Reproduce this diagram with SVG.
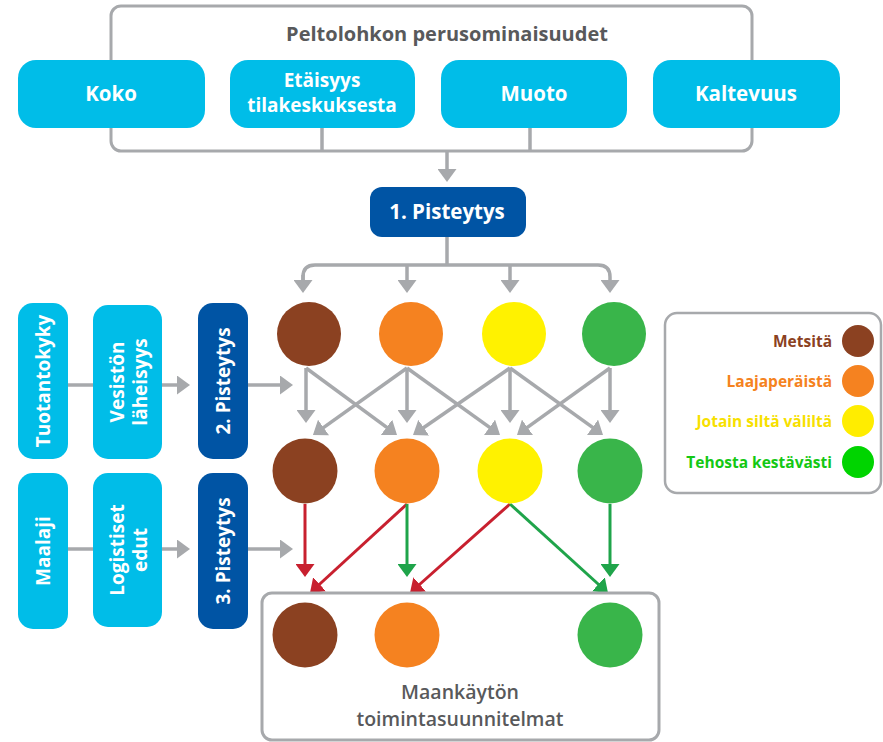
<svg xmlns="http://www.w3.org/2000/svg" width="883" height="742" viewBox="0 0 883 742">
<style>
  .frame{fill:none;stroke:#A7A9AC;stroke-width:3}
  .lb{fill:#00BDE8}
  .db{fill:#0054A4}
  .wt{fill:#fff;font-family:"Open Sans","Liberation Sans",sans-serif;font-weight:700;font-size:19px;text-anchor:middle;dominant-baseline:central}
  .big{font-size:20.5px}
  .gl{fill:none;stroke:#A7A9AC;stroke-width:3.5}
  .rl{fill:none;stroke:#C8202F;stroke-width:3}
  .gn{fill:none;stroke:#1FA44A;stroke-width:3}
  .lg{font-family:"Open Sans","Liberation Sans",sans-serif;font-weight:700;font-size:15.5px;text-anchor:end;dominant-baseline:central}
  .dk{fill:#58595B;font-family:"Open Sans","Liberation Sans",sans-serif;font-weight:700;font-size:20px;text-anchor:middle;dominant-baseline:central}
  .dm{fill:#58595B;font-family:"Open Sans","Liberation Sans",sans-serif;font-weight:600;font-size:19.5px;text-anchor:middle;dominant-baseline:central}
</style>
<defs>
  <marker id="ag" markerUnits="userSpaceOnUse" markerWidth="13" markerHeight="19" viewBox="0 0 13 19" refX="10" refY="9.5" orient="auto"><path d="M0,0 L13,9.5 L0,19 z" fill="#A7A9AC"/></marker>
  <marker id="ar" markerUnits="userSpaceOnUse" markerWidth="13" markerHeight="19" viewBox="0 0 13 19" refX="10" refY="9.5" orient="auto"><path d="M0,0 L13,9.5 L0,19 z" fill="#C8202F"/></marker>
  <marker id="an" markerUnits="userSpaceOnUse" markerWidth="13" markerHeight="19" viewBox="0 0 13 19" refX="10" refY="9.5" orient="auto"><path d="M0,0 L13,9.5 L0,19 z" fill="#1FA44A"/></marker>
</defs>

<g id="perusominaisuudet">
  <rect class="frame" x="111" y="6" width="641" height="145" rx="10"/>
  <text class="dk" x="447" y="33">Peltolohkon perusominaisuudet</text>
</g>

<g id="connectors">
  <line class="gl" x1="322" y1="128" x2="322" y2="151"/>
  <line class="gl" x1="530" y1="128" x2="530" y2="151"/>
  <line class="gl" x1="447" y1="151" x2="447" y2="179" marker-end="url(#ag)"/>
  <line class="gl" x1="447" y1="237" x2="447" y2="265"/>
  <path class="gl" d="M303,290 V277 Q303,265 315,265 H598 Q610,265 610,277 V290" marker-end="url(#ag)"/>
  <line class="gl" x1="303" y1="275" x2="303" y2="290" marker-end="url(#ag)"/>
  <line class="gl" x1="407" y1="265" x2="407" y2="290" marker-end="url(#ag)"/>
  <line class="gl" x1="510" y1="265" x2="510" y2="290" marker-end="url(#ag)"/>

  <line class="gl" x1="68" y1="385" x2="93" y2="385"/>
  <line class="gl" x1="162" y1="385" x2="187" y2="385" marker-end="url(#ag)"/>
  <line class="gl" x1="248" y1="385" x2="290" y2="385" marker-end="url(#ag)"/>
  <line class="gl" x1="68" y1="549" x2="93" y2="549"/>
  <line class="gl" x1="162" y1="549" x2="187" y2="549" marker-end="url(#ag)"/>
  <line class="gl" x1="248" y1="549" x2="290" y2="549" marker-end="url(#ag)"/>

  <line class="gl" x1="306" y1="368" x2="306" y2="420" marker-end="url(#ag)"/>
  <line class="gl" x1="407" y1="368" x2="407" y2="420" marker-end="url(#ag)"/>
  <line class="gl" x1="510" y1="368" x2="510" y2="420" marker-end="url(#ag)"/>
  <line class="gl" x1="610" y1="368" x2="610" y2="420" marker-end="url(#ag)"/>
  <line class="gl" x1="306" y1="368" x2="394.6" y2="433.2" marker-end="url(#ag)"/>
  <line class="gl" x1="407" y1="368" x2="315.4" y2="433.3" marker-end="url(#ag)"/>
  <line class="gl" x1="407" y1="368" x2="497.6" y2="433.2" marker-end="url(#ag)"/>
  <line class="gl" x1="510" y1="368" x2="415.5" y2="433.3" marker-end="url(#ag)"/>
  <line class="gl" x1="510" y1="368" x2="600.6" y2="433.2" marker-end="url(#ag)"/>
  <line class="gl" x1="610" y1="368" x2="519.4" y2="433.2" marker-end="url(#ag)"/>

  <line class="rl" x1="305" y1="504" x2="305" y2="574" marker-end="url(#ar)"/>
  <line class="rl" x1="407" y1="504" x2="312.2" y2="591" marker-end="url(#ar)"/>
  <line class="gn" x1="407" y1="504" x2="407" y2="574" marker-end="url(#an)"/>
  <line class="rl" x1="510" y1="504" x2="412.2" y2="591" marker-end="url(#ar)"/>
  <line class="gn" x1="510" y1="504" x2="605.8" y2="591" marker-end="url(#an)"/>
  <line class="gn" x1="610" y1="504" x2="610" y2="574" marker-end="url(#an)"/>
</g>

<g id="koko"><rect class="lb" x="18" y="60" width="187" height="68" rx="18"/><text class="wt big" x="111" y="93">Koko</text></g>
<g id="etaisyys"><rect class="lb" x="230" y="60" width="185" height="68" rx="18"/><text class="wt" x="322" y="80">Etäisyys</text><text class="wt" x="322" y="105">tilakeskuksesta</text></g>
<g id="muoto"><rect class="lb" x="441" y="60" width="186" height="68" rx="18"/><text class="wt big" x="534" y="93">Muoto</text></g>
<g id="kaltevuus"><rect class="lb" x="653" y="60" width="187" height="68" rx="18"/><text class="wt big" x="746" y="93">Kaltevuus</text></g>

<g id="pisteytys1"><rect class="db" x="370" y="187" width="156" height="50" rx="12"/><text class="wt big" x="447" y="211">1. Pisteytys</text></g>

<g id="tuotantokyky"><rect class="lb" x="18" y="303" width="50" height="156" rx="15"/><text class="wt" transform="translate(43,381) rotate(-90)">Tuotantokyky</text></g>
<g id="vesiston"><rect class="lb" x="93" y="305" width="69" height="154" rx="15"/><g transform="translate(128,382) rotate(-90)"><text class="wt" x="0" y="-11">Vesistön</text><text class="wt" x="0" y="12">läheisyys</text></g></g>
<g id="pisteytys2"><rect class="db" x="198" y="303" width="50" height="156" rx="15"/><text class="wt" transform="translate(223,381) rotate(-90)">2. Pisteytys</text></g>
<g id="maalaji"><rect class="lb" x="18" y="473" width="50" height="156" rx="15"/><text class="wt" transform="translate(43,551) rotate(-90)">Maalaji</text></g>
<g id="logistiset"><rect class="lb" x="93" y="473" width="69" height="154" rx="15"/><g transform="translate(128,550) rotate(-90)"><text class="wt" x="0" y="-11">Logistiset</text><text class="wt" x="0" y="12">edut</text></g></g>
<g id="pisteytys3"><rect class="db" x="198" y="473" width="50" height="156" rx="15"/><text class="wt" transform="translate(223,551) rotate(-90)">3. Pisteytys</text></g>

<g id="row1">
  <circle cx="309" cy="334" r="32" fill="#8B4121"/>
  <circle cx="411" cy="334" r="32" fill="#F58220"/>
  <circle cx="514" cy="334" r="32" fill="#FFF200"/>
  <circle cx="614" cy="334" r="32" fill="#39B54A"/>
</g>
<g id="row2">
  <circle cx="305" cy="471" r="32.5" fill="#8B4121"/>
  <circle cx="407" cy="471" r="32.5" fill="#F58220"/>
  <circle cx="510" cy="471" r="32.5" fill="#FFF200"/>
  <circle cx="610" cy="471" r="32.5" fill="#39B54A"/>
</g>

<g id="toimintasuunnitelmat">
  <rect class="frame" x="262" y="593" width="397" height="147" rx="10"/>
  <circle cx="305" cy="635" r="32.5" fill="#8B4121"/>
  <circle cx="407" cy="635" r="32.5" fill="#F58220"/>
  <circle cx="610" cy="635" r="32.5" fill="#39B54A"/>
  <text class="dm" x="460" y="691">Maankäytön</text>
  <text class="dm" x="460" y="718">toimintasuunnitelmat</text>
</g>

<g id="legend">
  <rect class="frame" x="665" y="313" width="216" height="180" rx="12" style="stroke-width:2.5"/>
  <text class="lg" x="832" y="341" fill="#8B4121">Metsitä</text>
  <circle cx="858" cy="341" r="16" fill="#8B4121"/>
  <text class="lg" x="832" y="381" fill="#F58220">Laajaperäistä</text>
  <circle cx="858" cy="381" r="16" fill="#F58220"/>
  <text class="lg" x="832" y="421" fill="#F7E000">Jotain siltä väliltä</text>
  <circle cx="858" cy="421" r="16" fill="#FFED00"/>
  <text class="lg" x="832" y="462" fill="#14C814">Tehosta kestävästi</text>
  <circle cx="858" cy="462" r="16" fill="#00D400"/>
</g>
</svg>
